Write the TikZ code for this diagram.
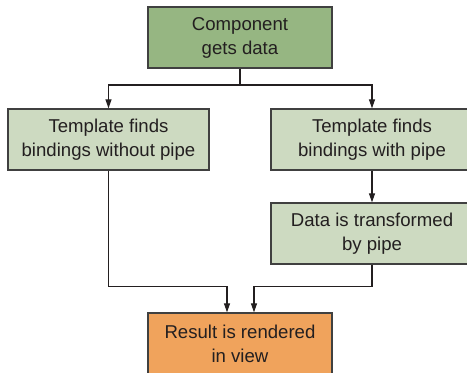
\documentclass[tikz,border=0pt]{standalone}
\usepackage{fontspec}
\setmainfont{Liberation Sans}
\usetikzlibrary{arrows.meta}
\definecolor{darkgreen}{RGB}{150,182,130}
\definecolor{palegreen}{RGB}{205,218,193}
\definecolor{orangefill}{RGB}{240,163,92}
\definecolor{edge}{RGB}{64,64,64}
\definecolor{ink}{RGB}{35,31,32}
\begin{document}
\begin{tikzpicture}[x=1pt,y=-1pt,
  stepbox/.style={draw=edge, line width=1.3pt, minimum height=61pt, inner sep=0pt,
    align=center, text=ink, font=\fontsize{18.6}{24}\selectfont},
  flow/.style={draw=ink, line width=1.1pt, -{Triangle[length=9pt,width=6pt]}}]
  \useasboundingbox (0,0) rectangle (467,373);
  \clip (0,0) rectangle (467,373);
  \node[stepbox, fill=darkgreen, minimum width=184pt] (comp) at (240,37.5) {Component\\gets data};
  \node[stepbox, fill=palegreen, minimum width=201pt] (nopipe) at (108.5,139.5) {Template finds\\bindings without pipe};
  \node[stepbox, fill=palegreen, minimum width=202pt] (pipe) at (372,139.5) {Template finds\\bindings with pipe};
  \node[stepbox, fill=palegreen, minimum width=202pt] (trans) at (372,233.5) {Data is transformed\\by pipe};
  \node[stepbox, fill=orangefill, minimum width=184pt] (result) at (240,343.5) {Result is rendered\\in view};
  \coordinate (split) at (240,85);
  \draw[draw=ink, line width=1.1pt] (comp.south) -- (split);
  \draw[flow] (split) -| (nopipe.north);
  \draw[flow] (split) -| (pipe.north);
  \draw[flow] (pipe) -- (trans);
  \draw[flow] (nopipe.south) |- ([xshift=-13pt,yshift=26pt]result.north) -- ([xshift=-13pt]result.north);
  \draw[flow] (trans.south) |- ([xshift=14pt,yshift=26pt]result.north) -- ([xshift=14pt]result.north);
\end{tikzpicture}
\end{document}
